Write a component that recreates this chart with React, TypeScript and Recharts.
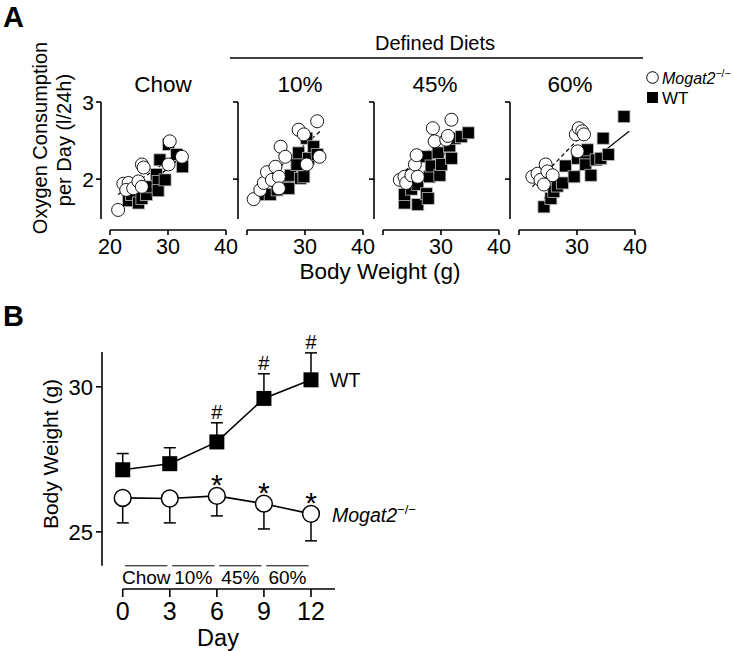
import React from 'react';
import {
  ScatterChart,
  Scatter,
  XAxis,
  YAxis,
  ReferenceLine,
  ComposedChart,
  Line,
  ErrorBar,
  LabelList,
} from 'recharts';

const FONT = '"Liberation Sans", Arial, Helvetica, sans-serif';

// ---------- Panel A data (body weight g, O2 consumption l/24h) ----------
const chowKO = [
  { x: 21.4, y: 1.6 }, { x: 22.3, y: 1.94 }, { x: 23.2, y: 1.95 }, { x: 22.8, y: 1.86 },
  { x: 24.0, y: 1.88 }, { x: 24.9, y: 1.97 }, { x: 25.5, y: 1.9 }, { x: 25.5, y: 2.19 },
  { x: 25.8, y: 2.15 }, { x: 30.1, y: 2.19 }, { x: 30.3, y: 2.49 }, { x: 32.4, y: 2.29 },
];
const chowWT = [
  { x: 23.2, y: 1.72 }, { x: 23.7, y: 1.8 }, { x: 24.9, y: 1.69 }, { x: 25.5, y: 1.75 },
  { x: 26.3, y: 1.8 }, { x: 26.9, y: 1.9 }, { x: 28.0, y: 2.06 }, { x: 28.3, y: 1.97 },
  { x: 28.3, y: 1.85 }, { x: 29.5, y: 1.99 }, { x: 28.6, y: 2.25 }, { x: 30.1, y: 2.45 },
  { x: 31.5, y: 2.32 }, { x: 32.5, y: 2.16 },
];
const tenKO = [
  { x: 21.15, y: 1.74 }, { x: 22.3, y: 1.86 }, { x: 22.9, y: 1.95 }, { x: 23.45, y: 2.09 },
  { x: 24.3, y: 1.99 }, { x: 24.9, y: 2.16 }, { x: 25.5, y: 2.03 }, { x: 25.5, y: 1.88 },
  { x: 25.8, y: 2.42 }, { x: 26.6, y: 2.29 }, { x: 28.9, y: 2.64 }, { x: 29.8, y: 2.58 },
  { x: 30.3, y: 2.19 }, { x: 32.1, y: 2.75 }, { x: 32.5, y: 2.29 },
];
const tenWT = [
  { x: 22.9, y: 1.8 }, { x: 24.0, y: 1.8 }, { x: 25.2, y: 1.86 }, { x: 24.9, y: 1.99 },
  { x: 26.9, y: 1.99 }, { x: 27.2, y: 1.88 }, { x: 27.5, y: 2.05 }, { x: 28.6, y: 2.19 },
  { x: 28.9, y: 2.34 }, { x: 29.2, y: 2.01 }, { x: 29.8, y: 2.03 }, { x: 30.3, y: 2.53 },
  { x: 30.6, y: 2.27 }, { x: 31.5, y: 2.42 }, { x: 32.1, y: 2.32 },
];
const hfd45KO = [
  { x: 22.9, y: 1.99 }, { x: 23.7, y: 2.03 }, { x: 24.0, y: 1.95 }, { x: 24.9, y: 2.05 },
  { x: 25.5, y: 2.19 }, { x: 25.8, y: 2.31 }, { x: 26.0, y: 2.03 }, { x: 28.6, y: 2.66 },
  { x: 28.9, y: 2.49 }, { x: 30.9, y: 2.51 }, { x: 31.2, y: 2.56 }, { x: 31.8, y: 2.77 },
];
const hfd45WT = [
  { x: 23.7, y: 1.69 }, { x: 23.7, y: 1.8 }, { x: 24.9, y: 1.87 }, { x: 26.0, y: 1.67 },
  { x: 26.0, y: 1.93 }, { x: 27.5, y: 1.81 }, { x: 27.8, y: 1.75 }, { x: 27.5, y: 2.29 },
  { x: 28.0, y: 2.03 }, { x: 28.3, y: 2.17 }, { x: 29.5, y: 2.34 }, { x: 29.8, y: 2.05 },
  { x: 30.1, y: 2.19 }, { x: 31.5, y: 2.43 }, { x: 31.8, y: 2.27 }, { x: 32.4, y: 2.53 },
  { x: 33.5, y: 2.55 }, { x: 34.7, y: 2.6 },
];
const hfd60KO = [
  { x: 22.3, y: 2.03 }, { x: 23.2, y: 2.07 }, { x: 23.7, y: 1.99 }, { x: 24.3, y: 1.93 },
  { x: 24.6, y: 2.19 }, { x: 24.9, y: 2.1 }, { x: 25.8, y: 2.05 }, { x: 29.8, y: 2.58 },
  { x: 30.1, y: 2.36 }, { x: 30.3, y: 2.66 }, { x: 30.9, y: 2.62 }, { x: 31.2, y: 2.58 },
];
const hfd60WT = [
  { x: 24.3, y: 1.64 }, { x: 25.5, y: 1.75 }, { x: 26.0, y: 1.84 }, { x: 26.6, y: 1.91 },
  { x: 27.5, y: 1.95 }, { x: 28.0, y: 2.17 }, { x: 29.5, y: 2.03 }, { x: 30.1, y: 2.27 },
  { x: 31.5, y: 2.19 }, { x: 31.5, y: 2.34 }, { x: 31.8, y: 2.38 }, { x: 32.4, y: 2.05 },
  { x: 33.3, y: 2.25 }, { x: 34.1, y: 2.27 }, { x: 34.5, y: 2.53 }, { x: 35.4, y: 2.32 },
  { x: 38.1, y: 2.81 },
];
// regression line endpoints
const chowKOFit = [{ x: 21.4, y: 1.8 }, { x: 32.4, y: 2.36 }];
const chowWTFit = [{ x: 23.0, y: 1.7 }, { x: 32.5, y: 2.3 }];
const tenKOFit = [{ x: 21.2, y: 1.86 }, { x: 32.6, y: 2.62 }];
const tenWTFit = [{ x: 22.9, y: 1.78 }, { x: 32.9, y: 2.36 }];
const hfd45KOFit = [{ x: 22.0, y: 1.99 }, { x: 31.5, y: 2.6 }];
const hfd45WTFit = [{ x: 22.8, y: 1.78 }, { x: 32.4, y: 2.45 }];
const hfd60KOFit = [{ x: 22.3, y: 1.9 }, { x: 31.5, y: 2.62 }];
const hfd60WTFit = [{ x: 24.3, y: 1.75 }, { x: 39.0, y: 2.62 }];

const panelTitles = ['Chow', '10%', '45%', '60%'];
const aXTicks = [20, 30, 40];
const aYTicks = [2, 3];

// ---------- Panel B data ----------
const days = [0, 3, 6, 9, 12];
const wtMean = [27.14, 27.35, 28.1, 29.6, 30.24];
const wtSem = [0.56, 0.55, 0.66, 0.85, 0.93];
const koMean = [26.17, 26.15, 26.24, 25.97, 25.62];
const koSem = [0.86, 0.84, 0.69, 0.87, 0.93];
const wtSig = ['', '', '#', '#', '#'];
const koSig = ['', '', '*', '*', '*'];
const bYTicks = [25, 30];
const dietNames = ['Chow', '10%', '45%', '60%'];
const dietStart = [0.15, 3.15, 6.15, 9.15];
const dietEnd = [2.85, 5.85, 8.85, 11.85];

// ---------- layout constants ----------
const A_X_DOMAIN: [number, number] = [18.45, 40];
const A_Y_DOMAIN: [number, number] = [1.34, 3];
const A_Y_AXIS_LOW = 1.484;
const A_LEFTS = [101, 238, 374, 510];

const B_X_DOMAIN: [number, number] = [-1.32, 13.53];
const B_Y_DOMAIN: [number, number] = [23.03, 31.2];
const B_Y_AXIS_LOW = 23.83;

const AX = { stroke: '#000', strokeWidth: 1.6 };

const squareA = (p: any) => (
  <rect x={p.cx - 6} y={p.cy - 6} width={12} height={12} fill="#000" stroke="#bbb" strokeWidth={0.8} />
);
const circleA = (p: any) => (
  <circle cx={p.cx} cy={p.cy} r={6.5} fill="#fff" stroke="#000" strokeWidth={0.9} />
);

function Subplot(props: any) {
  const { left, ko, wt, koFit, wtFit, first } = props;
  const xTick = (t: any) => {
    if (!first && t.payload.value === 20) return <g />;
    return (
      <text x={t.x} y={t.y} dy="0.71em" textAnchor="middle" fontSize={21.5} fontFamily={FONT} fill="#000">
        {t.payload.value}
      </text>
    );
  };
  const yTick = (t: any) => {
    if (!first) return <g />;
    return (
      <text x={t.x} y={t.y} dy="0.36em" textAnchor="end" fontSize={21} fontFamily={FONT} fill="#000">
        {t.payload.value}
      </text>
    );
  };
  return (
    <div style={{ position: 'absolute', left: left - 50, top: 0 }}>
      <ScatterChart width={205} height={260} margin={{ top: 102, right: 30, left: 0, bottom: 0 }}>
        <XAxis
          type="number"
          dataKey="x"
          domain={A_X_DOMAIN}
          allowDataOverflow
          ticks={aXTicks}
          interval={0}
          axisLine={false}
          tickLine={AX}
          tickSize={5}
          tickMargin={4}
          height={30}
          tick={xTick}
        />
        <YAxis
          type="number"
          dataKey="y"
          domain={A_Y_DOMAIN}
          allowDataOverflow
          ticks={aYTicks}
          interval={0}
          axisLine={false}
          tickLine={AX}
          tickSize={5}
          tickMargin={2}
          width={50}
          tick={yTick}
        />
        <Scatter data={wt} shape={squareA} isAnimationActive={false} />
        <Scatter data={ko} shape={circleA} isAnimationActive={false} />
        <ReferenceLine segment={wtFit} stroke="#000" strokeWidth={1.2} ifOverflow="visible" />
        <ReferenceLine segment={koFit} stroke="#000" strokeWidth={1.2} strokeDasharray="4 3" ifOverflow="visible" />
        <ReferenceLine
          segment={[{ x: A_X_DOMAIN[0], y: A_Y_AXIS_LOW }, { x: A_X_DOMAIN[0], y: A_Y_DOMAIN[1] }]}
          {...AX}
          ifOverflow="visible"
        />
        <ReferenceLine
          segment={[{ x: aXTicks[0], y: A_Y_DOMAIN[0] }, { x: aXTicks[2], y: A_Y_DOMAIN[0] }]}
          {...AX}
          ifOverflow="visible"
        />
      </ScatterChart>
    </div>
  );
}

const bData = days.map((d, i) => ({
  day: d,
  wt: wtMean[i],
  wtE: [0, wtSem[i]],
  wtTop: wtMean[i] + wtSem[i],
  wtMark: wtSig[i],
  ko: koMean[i],
  koE: [koSem[i], 0],
  koMark: koSig[i],
}));

const wtDot = (p: any) => (
  <rect key={'w' + p.index} x={p.cx - 7.5} y={p.cy - 7.5} width={15} height={15} fill="#000" />
);
const koDot = (p: any) => (
  <circle key={'k' + p.index} cx={p.cx} cy={p.cy} r={8.4} fill="#fff" stroke="#000" strokeWidth={1.5} />
);
const hashLabel = (p: any) =>
  p.value ? (
    <text x={p.x} y={p.y - 4} textAnchor="middle" fontSize={20} fontFamily={FONT} fill="#000">
      {p.value}
    </text>
  ) : null;
const starLabel = (p: any) =>
  p.value ? (
    <text x={p.x} y={p.y - 1} textAnchor="middle" fontSize={30} fontFamily={FONT} fill="#000">
      {p.value}
    </text>
  ) : null;

const bXTick = (t: any) => (
  <text x={t.x} y={t.y} dy="0.71em" textAnchor="middle" fontSize={25} fontFamily={FONT} fill="#000">
    {t.payload.value}
  </text>
);
const bYTick = (t: any) => (
  <text x={t.x} y={t.y} dy="0.36em" textAnchor="end" fontSize={22} fontFamily={FONT} fill="#000">
    {t.payload.value}
  </text>
);

function PanelB() {
  return (
    <div style={{ position: 'absolute', left: 0, top: 300 }}>
      <ComposedChart width={380} height={351} data={bData} margin={{ top: 52, right: 45, left: 0, bottom: 0 }}>
        <XAxis
          type="number"
          dataKey="day"
          domain={B_X_DOMAIN}
          allowDataOverflow
          ticks={days}
          interval={0}
          axisLine={false}
          tickLine={AX}
          tickSize={8}
          tickMargin={5}
          height={62}
          tick={bXTick}
        />
        <YAxis
          type="number"
          domain={B_Y_DOMAIN}
          allowDataOverflow
          ticks={bYTicks}
          interval={0}
          axisLine={false}
          tickLine={AX}
          tickSize={6}
          tickMargin={3}
          width={102}
          tick={bYTick}
        />
        <ReferenceLine
          segment={[{ x: B_X_DOMAIN[0], y: B_Y_AXIS_LOW }, { x: B_X_DOMAIN[0], y: B_Y_DOMAIN[1] }]}
          {...AX}
          ifOverflow="visible"
        />
        <ReferenceLine
          segment={[{ x: days[0], y: B_Y_DOMAIN[0] }, { x: B_X_DOMAIN[1], y: B_Y_DOMAIN[0] }]}
          {...AX}
          ifOverflow="visible"
        />
        {dietNames.map((n, i) => (
          <ReferenceLine
            key={n}
            segment={[{ x: dietStart[i], y: B_Y_AXIS_LOW }, { x: dietEnd[i], y: B_Y_AXIS_LOW }]}
            stroke="#000"
            strokeWidth={1}
            ifOverflow="visible"
            label={(lp: any) => {
              const vb = lp.viewBox || {};
              return (
                <text
                  x={vb.x + (vb.width || 0) / 2}
                  y={vb.y + 18}
                  textAnchor="middle"
                  fontSize={19}
                  fontFamily={FONT}
                  fill="#000"
                >
                  {n}
                </text>
              );
            }}
          />
        ))}
        <Line dataKey="wt" stroke="none" dot={false} activeDot={false} isAnimationActive={false}>
          <ErrorBar dataKey="wtE" width={6} stroke="#000" strokeWidth={1.5} direction="y" />
        </Line>
        <Line dataKey="ko" stroke="none" dot={false} activeDot={false} isAnimationActive={false}>
          <ErrorBar dataKey="koE" width={6} stroke="#000" strokeWidth={1.5} direction="y" />
        </Line>
        <Line dataKey="wtTop" stroke="none" dot={false} activeDot={false} isAnimationActive={false}>
          <LabelList dataKey="wtMark" content={hashLabel} />
        </Line>
        <Line dataKey="wt" stroke="#000" strokeWidth={1.6} dot={wtDot} activeDot={false} isAnimationActive={false} />
        <Line dataKey="ko" stroke="#000" strokeWidth={1.6} dot={koDot} activeDot={false} isAnimationActive={false}>
          <LabelList dataKey="koMark" content={starLabel} />
        </Line>
      </ComposedChart>
    </div>
  );
}

function Overlay() {
  const titleX = [163, 300, 435, 570];
  return (
    <svg
      width={734}
      height={651}
      style={{ position: 'absolute', left: 0, top: 0, pointerEvents: 'none' }}
      fontFamily={FONT}
    >
      <text x={3} y={27} fontSize={29} fontWeight="bold">A</text>
      <text x={3} y={326} fontSize={29} fontWeight="bold">B</text>
      <text x={435} y={50} fontSize={20} textAnchor="middle">Defined Diets</text>
      <line x1={230} y1={58} x2={643} y2={58} stroke="#000" strokeWidth={1.5} />
      {panelTitles.map((t, i) => (
        <text key={t} x={titleX[i]} y={92} fontSize={22.5} textAnchor="middle">{t}</text>
      ))}
      <circle cx={652.5} cy={77.5} r={5.8} fill="#fff" stroke="#000" strokeWidth={1} />
      <text x={662} y={83.5} fontSize={16}>
        <tspan fontStyle="italic">Mogat2</tspan>
        <tspan fontSize={10.5} dy={-7}>−/−</tspan>
      </text>
      <rect x={647} y={92} width={11} height={11} fill="#000" />
      <text x={662} y={103.5} fontSize={17}>WT</text>
      <text transform="translate(46.5,138) rotate(-90)" fontSize={20} textAnchor="middle">
        Oxygen Consumption
      </text>
      <text transform="translate(70.5,140) rotate(-90)" fontSize={20} textAnchor="middle">
        per Day (l/24h)
      </text>
      <text x={380} y={279} fontSize={22.5} textAnchor="middle">Body Weight (g)</text>
      <text transform="translate(58,454) rotate(-90)" fontSize={21} textAnchor="middle">
        Body Weight (g)
      </text>
      <text x={218} y={646} fontSize={23.5} textAnchor="middle">Day</text>
      <text x={330} y={387} fontSize={19.5}>WT</text>
      <text x={332} y={522} fontSize={19.5}>
        <tspan fontStyle="italic">Mogat2</tspan>
        <tspan fontSize={13} dy={-8}>−/−</tspan>
      </text>
    </svg>
  );
}

export default function App() {
  return (
    <div style={{ position: 'absolute', left: 0, top: 0, width: 734, height: 651, background: '#fff' }}>
      <Subplot left={A_LEFTS[0]} ko={chowKO} wt={chowWT} koFit={chowKOFit} wtFit={chowWTFit} first />
      <Subplot left={A_LEFTS[1]} ko={tenKO} wt={tenWT} koFit={tenKOFit} wtFit={tenWTFit} />
      <Subplot left={A_LEFTS[2]} ko={hfd45KO} wt={hfd45WT} koFit={hfd45KOFit} wtFit={hfd45WTFit} />
      <Subplot left={A_LEFTS[3]} ko={hfd60KO} wt={hfd60WT} koFit={hfd60KOFit} wtFit={hfd60WTFit} />
      <PanelB />
      <Overlay />
    </div>
  );
}
